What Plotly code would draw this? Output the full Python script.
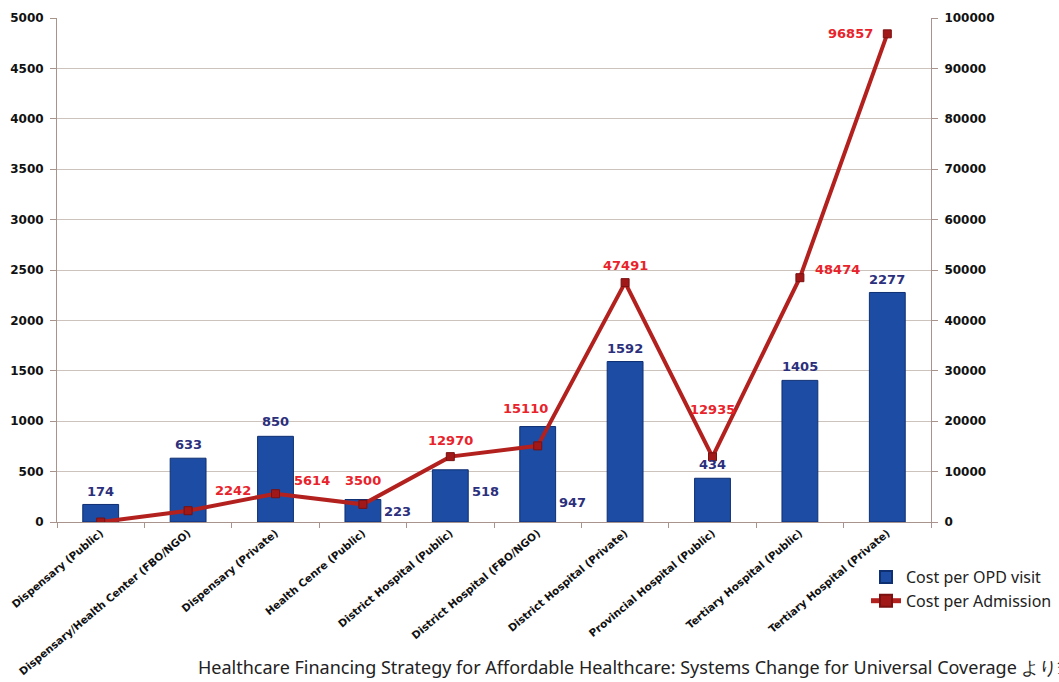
import plotly.graph_objects as go

categories = [
    "Dispensary (Public)",
    "Dispensary/Health Center (FBO/NGO)",
    "Dispensary (Private)",
    "Health Cenre (Public)",
    "District Hospital (Public)",
    "District Hospital (FBO/NGO)",
    "District Hospital (Private)",
    "Provincial Hospital (Public)",
    "Tertiary Hospital (Public)",
    "Tertiary Hospital (Private)",
]
cost_opd = [174, 633, 850, 223, 518, 947, 1592, 434, 1405, 2277]
cost_admission = [0, 2242, 5614, 3500, 12970, 15110, 47491, 12935, 48474, 96857]
admission_labels = ["", "2242", "5614", "3500", "12970", "15110", "47491", "12935", "48474", "96857"]

left_ticks = list(range(0, 5001, 500))
right_ticks = list(range(0, 100001, 10000))

# label offsets (pixels) – styling only
opd_shift = [(0, 13), (0, 14), (0, 15), (35, -12), (35, -22), (35, -76), (0, 13), (0, 14), (0, 14), (0, 13)]
adm_shift = [(0, 0), (45, 20), (36, 13), (0, 24), (0, 16), (-12, 37), (0, 17), (0, 47), (38, 8), (-37, 0)]

fig = go.Figure()
fig.add_trace(go.Bar(
    x=categories, y=cost_opd, name="Cost per OPD visit",
    marker=dict(color="#1c4ca3", line=dict(color="#0e2f72", width=1)),
    width=0.41, yaxis="y",
))
fig.add_trace(go.Scatter(
    x=categories, y=cost_admission, name="Cost per Admission",
    mode="lines+markers", yaxis="y2",
    line=dict(color="#b3211f", width=4),
    marker=dict(symbol="square", size=8, color="#a01818", line=dict(color="#7a1010", width=1)),
))

annotations = []
for c, v, (dx, dy) in zip(categories, cost_opd, opd_shift):
    annotations.append(dict(
        x=c, y=v, xref="x", yref="y", text=str(v), showarrow=False,
        xshift=dx, yshift=dy,
        font=dict(family="DejaVu Sans", size=13, color="#2c2f7c", weight="bold"),
    ))
for c, v, t, (dx, dy) in zip(categories, cost_admission, admission_labels, adm_shift):
    if not t:
        continue
    annotations.append(dict(
        x=c, y=v, xref="x", yref="y2", text=t, showarrow=False,
        xshift=dx, yshift=dy,
        font=dict(family="DejaVu Sans", size=13, color="#e8232b", weight="bold"),
    ))
annotations.append(dict(
    x=(196 - 57) / 874, y=-(667 - 522) / 504, xref="paper", yref="paper",
    xanchor="left", yanchor="middle", showarrow=False,
    text="Healthcare Financing Strategy for Affordable Healthcare: Systems Change for Universal Coverage より筆者作成",
    font=dict(family="Noto Sans", size=18, color="#222222"),
))

fig.update_layout(
    width=1059, height=682,
    margin=dict(l=57, r=128, t=18, b=160, autoexpand=False),
    paper_bgcolor="white", plot_bgcolor="white",
    showlegend=True,
    legend=dict(
        x=(866 - 57) / 874, y=-(560 - 522) / 504, xanchor="left", yanchor="top",
        font=dict(family="Noto Sans", size=16, color="#222222"),
        bgcolor="rgba(255,255,255,0)", itemsizing="constant", tracegroupgap=0,
        itemwidth=30,
    ),
    bargap=0.59,
    xaxis=dict(
        type="category", tickangle=-40, automargin=False, range=[-0.5, 9.5],
        tickfont=dict(family="DejaVu Sans", size=10.5, color="#111111", weight="bold"),
        showline=True, linecolor="#a8948c", linewidth=1,
        ticks="outside", tickson="boundaries", ticklen=5, tickcolor="#a8948c",
        showgrid=False,
    ),
    yaxis=dict(
        range=[0, 5000], tickvals=left_ticks, automargin=False,
        tickfont=dict(family="DejaVu Sans", size=12, color="#111111", weight="bold"),
        showline=True, linecolor="#a8948c", linewidth=1,
        ticks="outside", ticklen=6, tickcolor="#a8948c", ticklabelstandoff=4,
        gridcolor="#cdc3bd", gridwidth=1, zeroline=False,
    ),
    yaxis2=dict(
        range=[0, 100000], tickvals=right_ticks, ticktext=[str(v) for v in right_ticks],
        overlaying="y", side="right", automargin=False,
        tickfont=dict(family="DejaVu Sans", size=12, color="#111111", weight="bold"),
        showline=True, linecolor="#a8948c", linewidth=1,
        ticks="outside", ticklen=6, tickcolor="#a8948c", ticklabelstandoff=4,
        showgrid=False, zeroline=False,
    ),
    annotations=annotations,
)

fig.write_html("out.html")
